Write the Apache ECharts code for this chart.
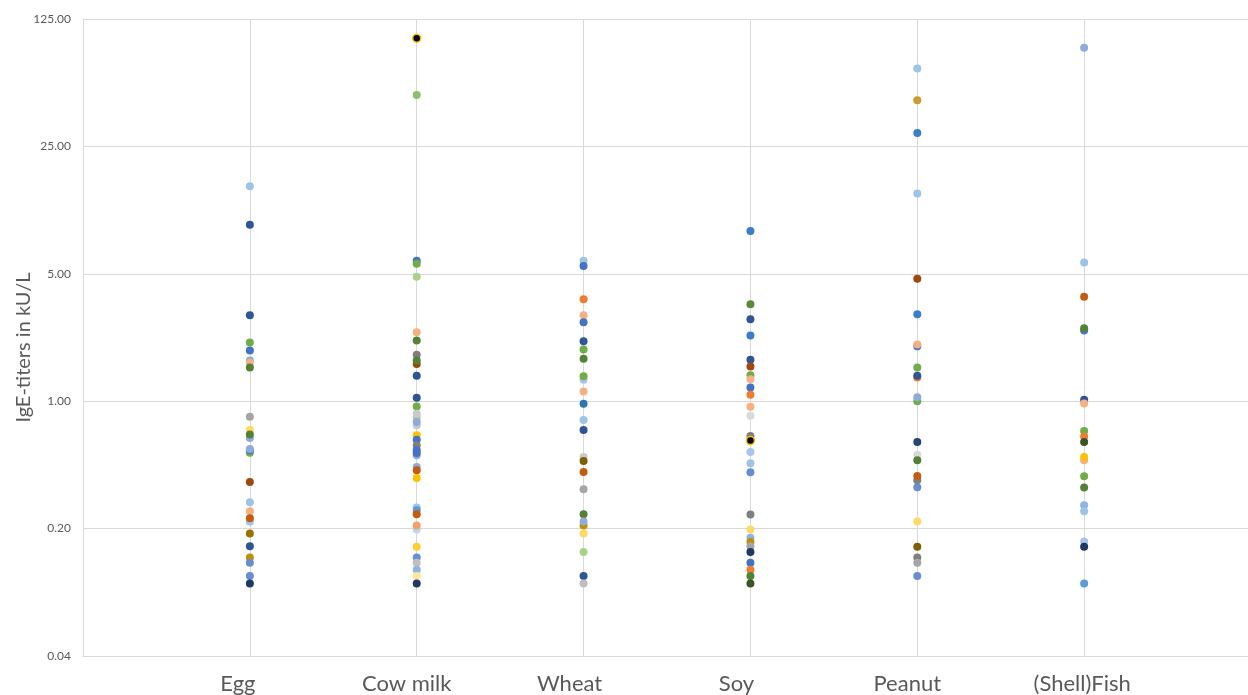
<!DOCTYPE html>
<html>
<head>
<meta charset="utf-8">
<script src="https://cdn.jsdelivr.net/npm/echarts@6/dist/echarts.min.js"></script>
<style>
  html, body { margin: 0; padding: 0; background: #ffffff; }
  #chart { width: 1248px; height: 695px; }
</style>
</head>
<body>
<div id="chart"></div>
<script>
// Allergen categories along the x axis (placed at x = 1..6)
const categories = ['Egg', 'Cow milk', 'Wheat', 'Soy', 'Peanut', '(Shell)Fish'];

// Log-scale tick values (base 5)
const yTicks = [0.04, 0.2, 1, 5, 25, 125];

// IgE titers per allergen (kU/L) with the marker colour of each patient
const eggValues = [15.1, 9.3, 2.96, 2.10, 1.90, 1.67, 1.625, 1.53, 0.822, 0.698, 0.628, 0.656, 0.522, 0.538, 0.546, 0.360, 0.279, 0.249, 0.218, 0.228, 0.188, 0.160, 0.139, 0.130, 0.110, 0.100];
const eggColors = ['#9DC3E6', '#2F5597', '#2F5597', '#70AD47', '#4472C4', '#8FAADC', '#F4B183', '#548235', '#A5A5A5', '#FFD966', '#8FAADC', '#548235', '#70AD47', '#4472C4', '#8FAADC', '#9E480E', '#9DC3E6', '#F4B183', '#A9C4EB', '#C55A11', '#997300', '#2F5597', '#BF9000', '#698ED0', '#698ED0', '#203864'];

const milkValues = [98.0, 47.9, 5.90, 5.67, 4.81, 2.39, 2.15, 1.80, 1.60, 1.67, 1.38, 1.045, 0.936, 0.815, 0.854, 0.737, 0.768, 0.650, 0.615, 0.571, 0.505, 0.520, 0.538, 0.436, 0.418, 0.379, 0.261, 0.252, 0.240, 0.198, 0.208, 0.159, 0.139, 0.130, 0.119, 0.110, 0.100];
const milkColors = ['#000000', '#8CC168', '#4472C4', '#70AD47', '#A9D18E', '#F4B183', '#548235', '#7F7F7F', '#9E480E', '#548235', '#2F5597', '#2F5597', '#70AD47', '#A9D18E', '#C9C9C9', '#C9C9C9', '#8FAADC', '#FFC000', '#4472C4', '#7F7F7F', '#8FAADC', '#4472C4', '#4472C4', '#8FAADC', '#C55A11', '#FFC000', '#9DC3E6', '#5B9BD5', '#C55A11', '#BDD7EE', '#F4A06C', '#FFCD33', '#698ED0', '#BFBFBF', '#8FB4E3', '#FFE699', '#203864'];

const wheatValues = [5.90, 5.52, 3.62, 2.96, 2.71, 2.13, 1.92, 1.71, 1.31, 1.37, 1.13, 0.969, 0.788, 0.695, 0.494, 0.470, 0.409, 0.329, 0.240, 0.208, 0.219, 0.188, 0.149, 0.110, 0.100];
const wheatColors = ['#9DC3E6', '#4472C4', '#ED7D31', '#F4B183', '#4472C4', '#2F5597', '#70AD47', '#548235', '#A9C4EB', '#70AD47', '#F4B183', '#2E75B6', '#9DC3E6', '#2F5597', '#C9C9C9', '#7F6000', '#C55A11', '#A5A5A5', '#548235', '#BF9000', '#8FAADC', '#FFD966', '#A9D18E', '#2F5597', '#BFBFBF'];

const soyValues = [8.59, 3.40, 2.82, 2.29, 1.69, 1.55, 1.39, 1.32, 1.19, 1.085, 0.933, 0.833, 0.644, 0.608, 0.526, 0.456, 0.407, 0.239, 0.198, 0.178, 0.169, 0.160, 0.149, 0.130, 0.119, 0.110, 0.100];
const soyColors = ['#3D7CC9', '#5A8A39', '#2F5597', '#3D7CC9', '#2F5597', '#9E480E', '#70AD47', '#F4B183', '#4472C4', '#ED7D31', '#F4B183', '#D9D9D9', '#7F7F7F', '#000000', '#A9C4EB', '#9DC3E6', '#698ED0', '#7F7F7F', '#FFD966', '#8FB4E3', '#BF9000', '#A5A5A5', '#203864', '#4472C4', '#ED7D31', '#548235', '#375623'];

const peanutValues = [66.8, 44.8, 29.6, 13.8, 4.69, 3.00, 2.00, 2.05, 1.53, 1.35, 1.38, 1.00, 1.05, 0.597, 0.509, 0.474, 0.368, 0.389, 0.337, 0.219, 0.159, 0.139, 0.130, 0.110];
const peanutColors = ['#9DC3E6', '#C99A2E', '#3D7CC9', '#9DC3E6', '#9E480E', '#3D7CC9', '#4472C4', '#F4B183', '#70AD47', '#ED7D31', '#2F5597', '#70AD47', '#8FAADC', '#264478', '#D9D9D9', '#548235', '#7F7F7F', '#C55A11', '#698ED0', '#FFD966', '#7F6000', '#7F7F7F', '#A5A5A5', '#698ED0'];

const fishValues = [87.0, 5.76, 3.74, 2.44, 2.51, 1.02, 0.97, 0.686, 0.641, 0.597, 0.474, 0.494, 0.387, 0.336, 0.269, 0.249, 0.170, 0.159, 0.100];
const fishColors = ['#8FAADC', '#9DC3E6', '#C55A11', '#3D7CC9', '#548235', '#2F5597', '#F4B183', '#70AD47', '#ED7D31', '#375623', '#F4B183', '#FFC000', '#70AD47', '#548235', '#8FB4E3', '#9DC3E6', '#A9C4EB', '#203864', '#5B9BD5'];

const groups = [
  [eggValues, eggColors],
  [milkValues, milkColors],
  [wheatValues, wheatColors],
  [soyValues, soyColors],
  [peanutValues, peanutColors],
  [fishValues, fishColors]
];

const FONT = 'Lato, "Open Sans", sans-serif';
const TEXT = '#595959';
const GRID = '#D9D9D9';

// Category labels sit a little left of their gridline; per-label nudge in px
const labelNudge = [12, 10, 14, 14, 10, 2];
const labelRich = {};
labelNudge.forEach((n, i) => {
  labelRich['c' + i] = {
    color: TEXT, fontFamily: FONT, fontSize: 22,
    padding: [0, 2 * n, 0, 0]
  };
});

// One scatter series per allergen; each point keeps its patient colour
const series = groups.map(([values, colors], i) => ({
  type: 'scatter',
  symbol: 'circle',
  symbolSize: 8,
  z: 3,
  data: values.map((v, j) => {
    const black = colors[j] === '#000000';
    return {
      value: [i + 1, v],
      itemStyle: {
        color: colors[j],
        borderColor: black ? '#FFC000' : colors[j],
        borderWidth: black ? 1.5 : 0,
        opacity: 1
      }
    };
  }),
  emphasis: { disabled: true }
}));

const chart = echarts.init(document.getElementById('chart'), null, { renderer: 'canvas' });
chart.setOption({
  animation: false,
  backgroundColor: '#ffffff',
  grid: { left: 83, right: -3, top: 19, bottom: 39, containLabel: false, outerBoundsMode: 'none' },
  xAxis: {
    type: 'value',
    min: 0,
    max: 7,
    interval: 1,
    axisLine: { show: true, lineStyle: { color: GRID, width: 1 } },
    axisTick: { show: false },
    splitLine: { show: true, lineStyle: { color: GRID, width: 1 } },
    axisLabel: {
      margin: 17,
      color: TEXT,
      fontFamily: FONT,
      fontSize: 22,
      rich: labelRich,
      formatter: v => (v >= 1 && v <= categories.length ? '{c' + (v - 1) + '|' + categories[v - 1] + '}' : '')
    }
  },
  yAxis: {
    type: 'log',
    logBase: 5,
    min: yTicks[0],
    max: yTicks[yTicks.length - 1],
    name: 'IgE-titers in kU/L',
    nameLocation: 'middle',
    nameGap: 49,
    nameRotate: 90,
    nameMoveOverlap: false,
    nameTextStyle: { color: TEXT, fontFamily: FONT, fontSize: 20, padding: [0, 20, 0, 0] },
    axisLine: { show: true, lineStyle: { color: GRID, width: 1 } },
    axisTick: { show: false },
    splitLine: { show: true, lineStyle: { color: GRID, width: 1 } },
    axisLabel: {
      margin: 12,
      color: TEXT,
      fontFamily: FONT,
      fontSize: 12,
      formatter: v => Number(v).toFixed(2)
    }
  },
  series: series
});
</script>
</body>
</html>
